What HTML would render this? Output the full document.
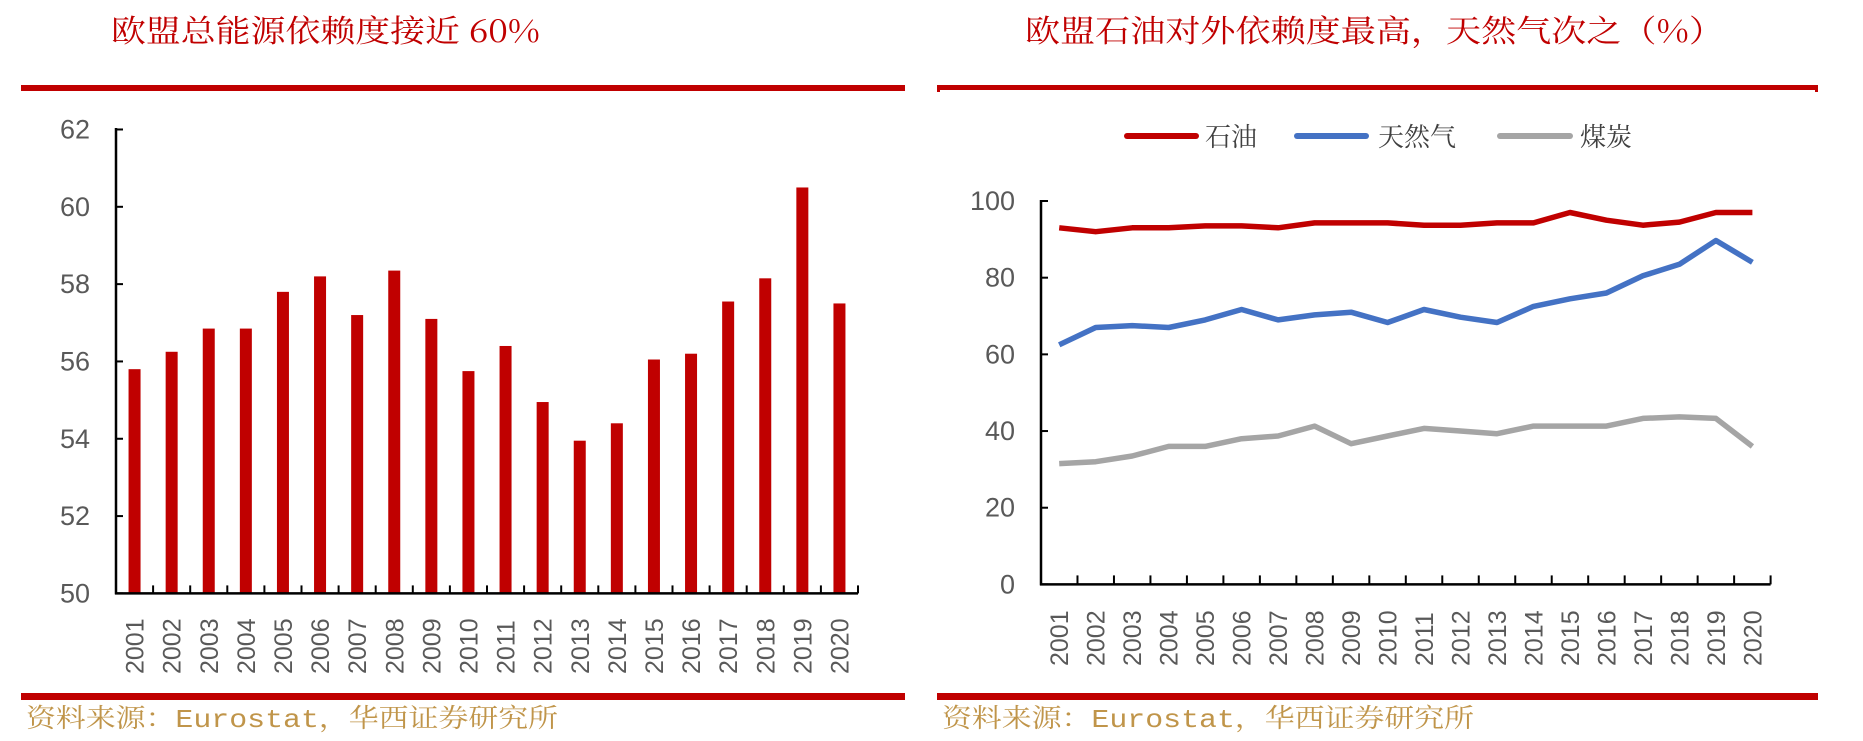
<!DOCTYPE html>
<html><head><meta charset="utf-8"><style>
html,body{margin:0;padding:0;background:#fff;width:1863px;height:741px;overflow:hidden}
svg{display:block}
.t{font-family:"Noto Serif CJK SC","Liberation Serif",serif;fill:#c00000;font-size:31px}
.ax{font-family:"Liberation Sans Narrow","Liberation Sans",sans-serif;fill:#595959;font-size:27px}
.yr{font-family:"Liberation Sans",sans-serif;fill:#595959;font-size:25px}
.src{font-family:"Liberation Mono","Noto Serif CJK SC",serif;fill:#c0954a;font-size:26px}
.lg{font-family:"Noto Serif CJK SC",serif;fill:#404040;font-size:26px}
</style></head><body>
<svg width="1863" height="741" viewBox="0 0 1863 741" xmlns="http://www.w3.org/2000/svg">
<text class="t" x="111" y="42" textLength="429" lengthAdjust="spacingAndGlyphs">欧盟总能源依赖度接近 60%</text>
<text class="t" x="1025" y="42" textLength="699" lengthAdjust="spacingAndGlyphs">欧盟石油对外依赖度最高，天然气次之（%）</text>
<rect x="21" y="85" width="884" height="6" fill="#c00000"/>
<rect x="937" y="85" width="881" height="5" fill="#c00000"/>
<rect x="937" y="85" width="3" height="7" fill="#c00000"/>
<rect x="1815" y="85" width="3" height="7" fill="#c00000"/>
<rect x="21" y="693" width="884" height="7" fill="#c00000"/>
<rect x="937" y="693" width="881" height="7" fill="#c00000"/>
<text class="src" x="26" y="727" textLength="532" lengthAdjust="spacingAndGlyphs">资料来源：Eurostat，华西证券研究所</text>
<text class="src" x="942" y="727" textLength="532" lengthAdjust="spacingAndGlyphs">资料来源：Eurostat，华西证券研究所</text>
<g id="left"></g>
<g id="right"></g>
</svg>
<script>
const NS="http://www.w3.org/2000/svg";
function el(p,t,a,txt){const e=document.createElementNS(NS,t);for(const k in a)e.setAttribute(k,a[k]);if(txt!==undefined)e.textContent=txt;p.appendChild(e);return e;}
// left chart
const L=document.getElementById('left');
const lx0=116,lx1=858,ly0=593.4,lpu=38.66;
const bars=[55.8,56.25,56.85,56.85,57.8,58.2,57.2,58.35,57.1,55.75,56.4,54.95,53.95,54.4,56.05,56.2,57.55,58.15,60.5,57.5];
const cw=(lx1-lx0)/20;
bars.forEach((v,i)=>{const cx=lx0+cw*(i+0.5);const y=ly0-(v-50)*lpu;
 el(L,'rect',{x:cx-6,y:y,width:12,height:ly0-y,fill:'#c00000'});
 el(L,'text',{class:'yr',transform:`translate(${cx+9},674) rotate(-90)`},String(2001+i));
});
el(L,'line',{x1:lx0,y1:128,x2:lx0,y2:ly0+1,stroke:'#000','stroke-width':2.5});
el(L,'line',{x1:lx0-1,y1:ly0,x2:lx1,y2:ly0,stroke:'#000','stroke-width':2.5});
for(let v=50;v<=62;v+=2){const y=ly0-(v-50)*lpu;el(L,'line',{x1:lx0,y1:y,x2:lx0+7,y2:y,stroke:'#000','stroke-width':2});
 el(L,'text',{class:'ax',x:90,y:y+9,'text-anchor':'end'},String(v));}
for(let i=1;i<=20;i++){const x=lx0+cw*i;el(L,'line',{x1:x,y1:ly0,x2:x,y2:ly0-8,stroke:'#000','stroke-width':2});}
// right chart
const R=document.getElementById('right');
const rx0=1041,rx1=1770.6,ry0=584.4,rpu=3.834;const rcw=(rx1-rx0)/20;
el(R,'line',{x1:rx0,y1:200,x2:rx0,y2:ry0+1,stroke:'#000','stroke-width':2.5});
el(R,'line',{x1:rx0-1,y1:ry0,x2:rx1,y2:ry0,stroke:'#000','stroke-width':2.5});
for(let v=0;v<=100;v+=20){const y=ry0-v*rpu;el(R,'line',{x1:rx0,y1:y,x2:rx0+7,y2:y,stroke:'#000','stroke-width':2});
 el(R,'text',{class:'ax',x:1015,y:y+9,'text-anchor':'end'},String(v));}
for(let i=1;i<=20;i++){const x=rx0+rcw*i;el(R,'line',{x1:x,y1:ry0,x2:x,y2:ry0-9,stroke:'#000','stroke-width':2});}
for(let i=0;i<20;i++){const cx=rx0+rcw*(i+0.5);el(R,'text',{class:'yr',transform:`translate(${cx+9},666) rotate(-90)`},String(2001+i));}
const oil=[93,92,93,93,93.5,93.5,93,94.3,94.3,94.3,93.7,93.7,94.3,94.3,97,95,93.7,94.5,97,97];
const gas=[62.5,67,67.5,67,69,71.7,69,70.3,71,68.3,71.7,69.7,68.3,72.5,74.5,76,80.5,83.5,89.7,84];
const coal=[31.5,32,33.5,36,36,38,38.7,41.3,36.7,38.7,40.7,40,39.3,41.3,41.3,41.3,43.3,43.7,43.3,36];
[[coal,'#a5a5a5'],[gas,'#4472c4'],[oil,'#c00000']].forEach(([d,c])=>{
 el(R,'polyline',{points:d.map((v,i)=>`${(rx0+rcw*(i+0.5)).toFixed(1)},${(ry0-v*rpu).toFixed(1)}`).join(' '),fill:'none',stroke:c,'stroke-width':5.5,'stroke-linejoin':'round'});
});
[[1127,1196,1205,'石油','#c00000'],[1297,1366,1378,'天然气','#4472c4'],[1500,1570,1580,'煤炭','#a5a5a5']].forEach(([a,b,t,s,c])=>{
 el(R,'line',{x1:a,y1:136,x2:b,y2:136,stroke:c,'stroke-width':6,'stroke-linecap':'round'});
 el(R,'text',{class:'lg',x:t,y:146},s);
});
</script>
</body></html>
